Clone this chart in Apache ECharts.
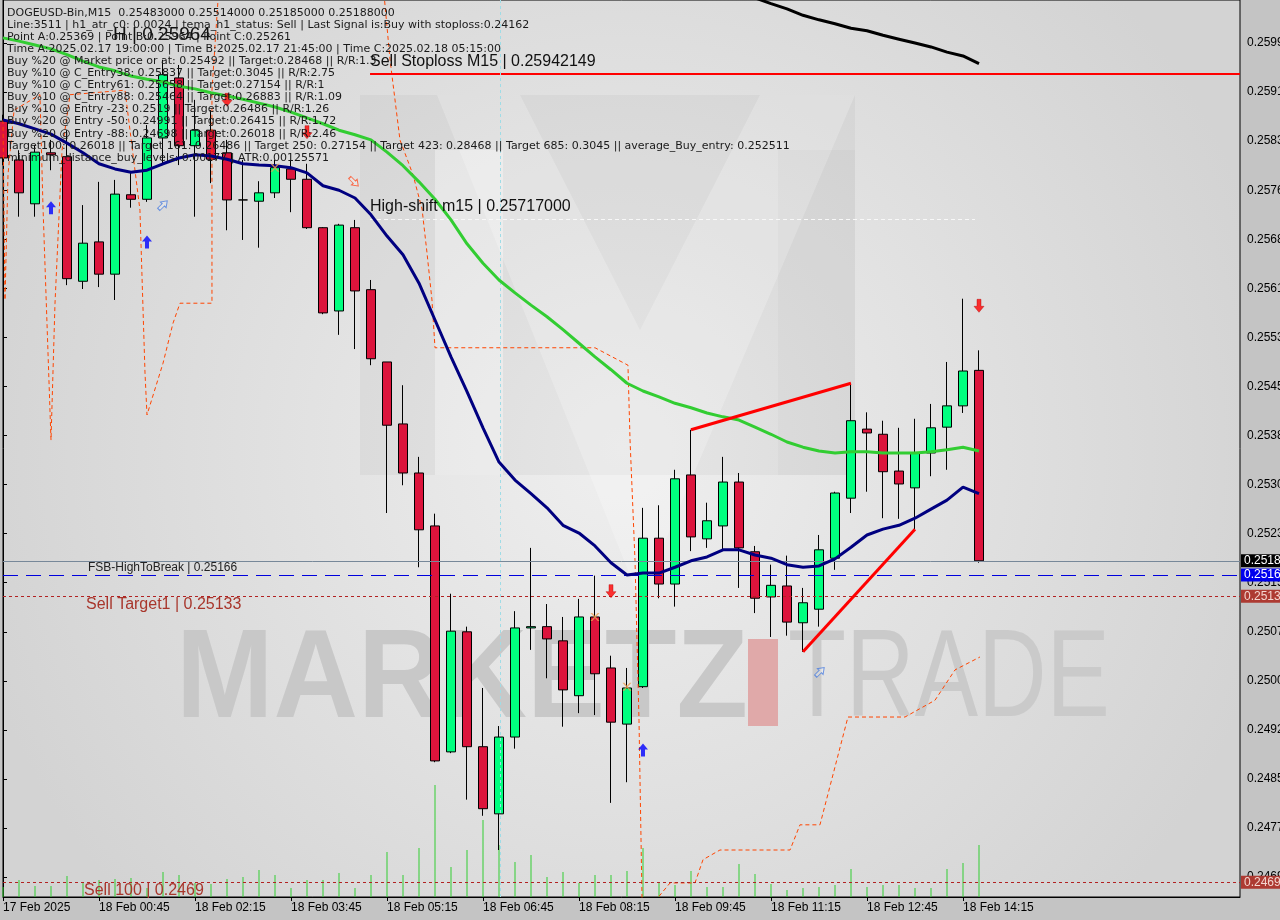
<!DOCTYPE html>
<html><head><meta charset="utf-8">
<script src="https://cdn.jsdelivr.net/npm/echarts@6/dist/echarts.min.js"></script>
<style>html,body{margin:0;padding:0;background:#c4c4c4}#c{width:1280px;height:920px}</style>
</head><body><div id="c"></div>
<script>
// ---------- DATA ----------
const candleOpen  = [0.25869,0.25809,0.25741,0.25820,0.25814,0.25621,0.25682,0.25632,0.25755,0.25748,0.25843,0.25936,0.25831,0.25855,0.25820,0.25747,0.25745,0.25758,0.25795,0.25779,0.25704,0.25575,0.25704,0.25608,0.25496,0.25400,0.25324,0.25242,0.24892,0.25078,0.24900,0.24796,0.24915,0.25084,0.25086,0.25064,0.24979,0.25101,0.25022,0.24935,0.24993,0.25223,0.25152,0.25321,0.25222,0.25242,0.25310,0.25202,0.25132,0.25149,0.25092,0.25113,0.25192,0.25285,0.25392,0.25384,0.25327,0.25301,0.25355,0.25395,0.25428,0.25483];
const candleHigh  = [0.25879,0.25824,0.25832,0.25840,0.25855,0.25739,0.25775,0.25778,0.25790,0.25863,0.25964,0.25956,0.25902,0.25886,0.25840,0.25809,0.25776,0.25809,0.25809,0.25803,0.25705,0.25710,0.25716,0.25623,0.25496,0.25460,0.25349,0.25261,0.25137,0.25086,0.24991,0.24932,0.25110,0.25208,0.25121,0.25101,0.25129,0.25165,0.25041,0.25022,0.25270,0.25274,0.25329,0.25391,0.25278,0.25349,0.25324,0.25211,0.25182,0.25196,0.25146,0.25228,0.25295,0.25463,0.25418,0.25405,0.25394,0.25408,0.25431,0.25496,0.25594,0.25514];
const candleLow   = [0.25801,0.25721,0.25721,0.25793,0.25615,0.25609,0.25612,0.25592,0.25735,0.25744,0.25801,0.25801,0.25721,0.25773,0.25700,0.25685,0.25673,0.25750,0.25728,0.25702,0.25570,0.25538,0.25516,0.25491,0.25262,0.25305,0.25178,0.24876,0.24890,0.24818,0.24793,0.24740,0.24897,0.25050,0.25006,0.24931,0.24952,0.24949,0.24813,0.24845,0.24991,0.25130,0.25117,0.25203,0.25208,0.25205,0.25146,0.25107,0.25070,0.25072,0.25047,0.25086,0.25174,0.25262,0.25295,0.25254,0.25253,0.25237,0.25319,0.25329,0.25417,0.25185];
const candleClose = [0.25812,0.25758,0.25821,0.25817,0.25625,0.25680,0.25632,0.25756,0.25748,0.25843,0.25941,0.25831,0.25855,0.25810,0.25747,0.25747,0.25758,0.25797,0.25779,0.25704,0.25572,0.25708,0.25606,0.25501,0.25398,0.25324,0.25236,0.24878,0.25079,0.24900,0.24804,0.24915,0.25084,0.25086,0.25067,0.24988,0.25101,0.25013,0.24938,0.24991,0.25223,0.25152,0.25315,0.25225,0.25250,0.25310,0.25208,0.25130,0.25150,0.25093,0.25123,0.25205,0.25293,0.25405,0.25386,0.25326,0.25307,0.25355,0.25394,0.25428,0.25482,0.25188];
const tickVolume  = [200,340,220,220,420,300,340,360,380,180,500,440,280,260,360,400,540,440,180,340,340,480,180,440,900,440,980,2240,600,940,1540,1040,700,840,400,500,280,440,440,520,980,280,240,520,200,200,660,460,260,140,180,200,240,560,200,240,240,180,180,560,680,1040];
const maNavy  = [0.25871,0.25865,0.25857,0.25849,0.25835,0.25820,0.25803,0.25795,0.25790,0.25793,0.25803,0.25812,0.25817,0.25815,0.25810,0.25803,0.25801,0.25800,0.25797,0.25789,0.25769,0.25762,0.25750,0.25724,0.25691,0.25662,0.25618,0.25561,0.25504,0.25450,0.25394,0.25341,0.25313,0.25292,0.25270,0.25243,0.25231,0.25211,0.25185,0.25166,0.25169,0.25169,0.25178,0.25188,0.25194,0.25205,0.25205,0.25197,0.25192,0.25182,0.25178,0.25180,0.25191,0.25209,0.25228,0.25237,0.25243,0.25254,0.25268,0.25282,0.25302,0.25292];
const maGreen = [0.25998,0.25993,0.25987,0.25981,0.25972,0.25962,0.25953,0.25947,0.25939,0.25934,0.25930,0.25923,0.25919,0.25913,0.25908,0.25903,0.25897,0.25891,0.25883,0.25874,0.25865,0.25855,0.25848,0.25840,0.25821,0.25800,0.25775,0.25748,0.25716,0.25679,0.25649,0.25623,0.25603,0.25584,0.25566,0.25546,0.25525,0.25504,0.25484,0.25463,0.25451,0.25442,0.25432,0.25425,0.25417,0.25411,0.25406,0.25395,0.25384,0.25372,0.25364,0.25358,0.25355,0.25357,0.25357,0.25355,0.25355,0.25355,0.25357,0.25360,0.25364,0.25358];
const maBlackStart = 46;
const maBlack = [0.26066,0.26060,0.26051,0.26043,0.26033,0.26026,0.26020,0.26013,0.26009,0.26002,0.25996,0.25990,0.25984,0.25976,0.25970,0.25958];
const stopX = [0,0.125,0.3125,0.69,2.31,2.5,3.0,3.25,3.69,4.19,7.625,8.56,8.875,9.0,10.0,10.625,11.06,13.06,13.06,13.44,13.7,23.56,24.19,24.81,25.625,26.19,26.5,26.81,27.0,37.0,39.06,39.19,39.5,39.75,39.94,40.56,41.69,43.25,43.75,44.81,49.19,49.81,51.06,52.81,56.375,58.25,59.5,61.06];
const stopP = [0.25871,0.25592,0.25786,0.25886,0.25910,0.25736,0.25375,0.25587,0.25824,0.25910,0.25917,0.25731,0.25479,0.25414,0.25494,0.25556,0.25587,0.25587,0.25917,0.26057,0.26134,0.26134,0.25964,0.25840,0.25786,0.25733,0.25665,0.25592,0.25518,0.25518,0.25491,0.25375,0.25189,0.24941,0.24663,0.24655,0.24689,0.24689,0.24725,0.24740,0.24740,0.24779,0.24779,0.24946,0.24946,0.24972,0.25019,0.25039];
const trendUpper = [[43,0.25391],[53,0.25463]];
const trendLower = [[50,0.25047],[57,0.25237]];
const arrowUpBlue = [[3,0.25735],[9,0.25682],[40,0.24895]];
const arrowDownRed = [[14,0.25902],[19,0.25852],[38,0.25141],[61,0.25583]];
const hollowBlue = [[10,0.25739],[51.06,0.25016]];
const hollowRed = [[21.94,0.25775]];
const crossMarks = [[17,0.25797],[37,0.25101],[39,0.24993]];
const waveLabels = [[4.06,0.25542,'I','#000'],[53.06,0.25485,'I','#0000ff'],[60,0.25643,'I V','#000'],[30,0.24700,'I I I','#000']];
const priceBid = 0.25188, priceFSB = 0.25166, priceSellT1 = 0.25133, priceSell100 = 0.2469;
const priceStoploss = 0.25942, priceHighShift = 0.25717, levelStartX = 22.94, highShiftEndX = 60.75;
const yTickValues = [0.24698,0.24774,0.24850,0.24926,0.25002,0.25078,0.25154,0.25230,0.25306,0.25382,0.25458,0.25534,0.25610,0.25686,0.25762,0.25838,0.25914,0.25990];
const xTickIndex = [0,6,12,18,24,30,36,42,48,54,60];
const xTickLabels = ['17 Feb 2025','18 Feb 00:45','18 Feb 02:15','18 Feb 03:45','18 Feb 05:15','18 Feb 06:45','18 Feb 08:15','18 Feb 09:45','18 Feb 11:15','18 Feb 12:45','18 Feb 14:15'];
const headerLines = [
 'DOGEUSD-Bin,M15  0.25483000 0.25514000 0.25185000 0.25188000',
 'Line:3511 | h1_atr_c0: 0.0024 | tema_h1_status: Sell | Last Signal is:Buy with stoploss:0.24162',
 'Point A:0.25369 | Point B:0.25964 | Point C:0.25261',
 'Time A:2025.02.17 19:00:00 | Time B:2025.02.17 21:45:00 | Time C:2025.02.18 05:15:00',
 'Buy %20 @ Market price or at: 0.25492 || Target:0.28468 || R/R:1.3',
 'Buy %10 @ C_Entry38: 0.25837 || Target:0.3045 || R/R:2.75',
 'Buy %10 @ C_Entry61: 0.25658 || Target:0.27154 || R/R:1',
 'Buy %10 @ C_Entry88: 0.25464 || Target:0.26883 || R/R:1.09',
 'Buy %10 @ Entry -23: 0.2519 || Target:0.26486 || R/R:1.26',
 'Buy %20 @ Entry -50: 0.24991 || Target:0.26415 || R/R:1.72',
 'Buy %20 @ Entry -88: 0.24698 || Target:0.26018 || R/R:2.46',
 'Target100: 0.26018 || Target 161: 0.26486 || Target 250: 0.27154 || Target 423: 0.28468 || Target 685: 0.3045 || average_Buy_entry: 0.252511',
 'minimum_distance_buy_levels: 0.00177 | ATR:0.00125571'
];

// ---------- CHART ----------
const chart = echarts.init(document.getElementById('c'), null, {renderer:'canvas'});
const F = 'Liberation Sans';
const FH = 'DejaVu Sans';
const arrowPath = 'path://M5 0 L10 6 L7 6 L7 13 L3 13 L3 6 L0 6 Z';
const crossPath = 'path://M0 0 L2 0 L5 3 L8 0 L10 0 L6 4 L10 8 L8 8 L5 5 L2 8 L0 8 L4 4 Z';

const graphics = [
  {type:'rect', z:-10, silent:true, shape:{x:3,y:0,width:1237,height:897},
   style:{fill:new echarts.graphic.RadialGradient(0.5,0.5,0.75,[{offset:0,color:'#efefef'},{offset:1,color:'#d3d3d3'}])}},
  // M logo watermark
  {type:'rect', z:-9, silent:true, shape:{x:360,y:95,width:495,height:380}, style:{fill:'rgba(0,0,0,0.035)'}},
  {type:'rect', z:-9, silent:true, shape:{x:435,y:150,width:68,height:325}, style:{fill:'rgba(255,255,255,0.35)'}},
  {type:'polygon', z:-9, silent:true, shape:{points:[[437,95],[520,95],[640,330],[760,95],[855,95],[640,600]]}, style:{fill:'rgba(255,255,255,0.22)'}},
  {type:'rect', z:-9, silent:true, shape:{x:778,y:150,width:77,height:325}, style:{fill:'rgba(0,0,0,0.02)'}},
  // MARKETZ I TRADE watermark
  {type:'text', z:-8, silent:true, x:176, y:682, scaleY:1.08, style:{text:'MARKETZ', font:'bold 117px '+F, fill:'#c8c8c8', textVerticalAlign:'middle'}},
  {type:'rect', z:-8, silent:true, shape:{x:748,y:639,width:30,height:87}, style:{fill:'#e0a9a9'}},
  {type:'text', z:-8, silent:true, x:788, y:682, scaleX:0.76, scaleY:1.0, style:{text:'TRADE', font:'normal 125px '+F, fill:'#cacaca', textVerticalAlign:'middle'}},
  // level texts
  {type:'text', z:100, silent:true, x:113, y:35, style:{text:'H | 0.25964', font:'19px '+F, fill:'#111', textVerticalAlign:'middle'}},
  {type:'text', z:100, silent:true, x:370, y:62, style:{text:'Sell Stoploss M15 | 0.25942149', font:'16px '+F, fill:'#111', textVerticalAlign:'middle'}},
  {type:'text', z:100, silent:true, x:370, y:207, style:{text:'High-shift m15 | 0.25717000', font:'16px '+F, fill:'#111', textVerticalAlign:'middle'}},
  {type:'text', z:100, silent:true, x:88, y:568, style:{text:'FSB-HighToBreak | 0.25166', font:'12px '+F, fill:'#222', textVerticalAlign:'middle'}},
  {type:'text', z:100, silent:true, x:86, y:605, style:{text:'Sell Target1 | 0.25133', font:'16px '+F, fill:'#a8362c', textVerticalAlign:'middle'}},
  {type:'text', z:100, silent:true, x:84, y:891, style:{text:'Sell 100 | 0.2469', font:'16px '+F, fill:'#a8362c', textVerticalAlign:'middle'}}
];
headerLines.forEach((t,k)=>{
  graphics.push({type:'text', z:100, silent:true, x:7, y:12.7+12.1*k, style:{text:t, font:'11px '+FH, fill:'#1a1a1a', textVerticalAlign:'middle'}});
});

const boxLabel = (txt,bg,fg)=>({show:true, position:'end', distance:1, formatter:txt, backgroundColor:bg, color:fg,
  fontFamily:F, fontSize:12, padding:[1,3,0,3], lineHeight:12});

const option = {
  animation:false,
  backgroundColor:'#c4c4c4',
  grid:{left:3, right:40, top:0, bottom:23, show:true, borderColor:'#000', borderWidth:1, backgroundColor:'transparent',
        containLabel:false, outerBoundsMode:'none'},
  xAxis:{type:'value', min:0, max:77.3125, position:'bottom',
    axisLine:{show:true, lineStyle:{color:'#000'}}, splitLine:{show:false},
    axisTick:{show:true, customValues:xTickIndex, length:4, lineStyle:{color:'#000'}},
    axisLabel:{customValues:xTickIndex, formatter:(v)=>xTickLabels[xTickIndex.indexOf(Math.round(v))]||'', align:'left', margin:5,
      color:'#000', fontFamily:F, fontSize:12}},
  yAxis:[
    {type:'value', position:'right', min:0.246672, max:0.260567, scale:true,
     axisLine:{show:true, lineStyle:{color:'#000'}}, splitLine:{show:false},
     axisTick:{show:true, customValues:yTickValues, length:4, lineStyle:{color:'#000'}},
     axisLabel:{customValues:yTickValues, formatter:(v)=>v.toFixed(5), margin:7, color:'#000', fontFamily:F, fontSize:12}},
    {type:'value', min:0, max:17940, show:false}
  ],
  graphic:{elements:graphics},
  series:[
    {type:'bar', name:'volume', xAxisIndex:0, yAxisIndex:1, barWidth:1, z:1, silent:true,
     itemStyle:{color:'#32cd32'}, data:tickVolume.map((v,i)=>[i,v])},
    {type:'candlestick', name:'price', z:3, barWidth:10, silent:true,
     itemStyle:{color:'#00ff7f', color0:'#dc143c', borderColor:'#000', borderColor0:'#000', borderWidth:1},
     data:candleOpen.map((o,i)=>[i,o,candleClose[i],candleLow[i],candleHigh[i]])},
    {type:'line', name:'stop', z:4, symbol:'none', silent:true, lineStyle:{color:'#ff4500', width:1, type:[4,3]},
     data:stopX.map((x,i)=>[x,stopP[i]])},
    {type:'line', name:'maGreen', z:5, symbol:'none', silent:true, lineStyle:{color:'#32cd32', width:3},
     data:maGreen.map((v,i)=>[i,v])},
    {type:'line', name:'maBlack', z:5, symbol:'none', silent:true, lineStyle:{color:'#000', width:3},
     data:maBlack.map((v,i)=>[maBlackStart+i,v])},
    {type:'line', name:'maNavy', z:6, symbol:'none', silent:true, lineStyle:{color:'#000080', width:3},
     data:maNavy.map((v,i)=>[i,v]),
     markLine:{symbol:'none', silent:true, animation:false, precision:6, data:[
       {yAxis:priceBid, lineStyle:{color:'#778899', width:1, type:'solid'}, label:boxLabel('0.25188','#000','#fff')},
       {yAxis:priceFSB, lineStyle:{color:'#0000dd', width:1, type:[15,8]}, label:boxLabel('0.25166','#0000ee','#fff')},
       {yAxis:priceSellT1, lineStyle:{color:'#b22222', width:1, type:[3,3]}, label:boxLabel('0.25133','#ad3a32','#f4d6d0')},
       {yAxis:priceSell100, lineStyle:{color:'#b22222', width:1, type:[3,3]}, label:boxLabel('0.24690','#ad3a32','#f4d6d0')},
       [{coord:[levelStartX,priceStoploss], lineStyle:{color:'#ff0000', width:2, type:'solid'}, label:{show:false}},{coord:[77.3125,priceStoploss]}],
       [{coord:[levelStartX,priceHighShift], lineStyle:{color:'#f8f8f8', width:1, type:[4,3]}, label:{show:false}},{coord:[highShiftEndX,priceHighShift]}],
       {xAxis:31.06, lineStyle:{color:'#9fdce6', width:1, type:[3,3]}, label:{show:false}}
     ]}},
    {type:'line', name:'trendUpper', z:7, symbol:'none', silent:true, lineStyle:{color:'#ff0000', width:3}, data:trendUpper},
    {type:'line', name:'trendLower', z:7, symbol:'none', silent:true, lineStyle:{color:'#ff0000', width:3}, data:trendLower},
    {type:'scatter', z:8, silent:true, symbol:arrowPath, symbolSize:[10,13], itemStyle:{color:'#0000ff'}, data:arrowUpBlue},
    {type:'scatter', z:8, silent:true, symbol:arrowPath, symbolSize:[10,13], symbolRotate:180, itemStyle:{color:'#ff0000', borderColor:'#b00000', borderWidth:0.5}, data:arrowDownRed},
    {type:'scatter', z:8, silent:true, symbol:arrowPath, symbolSize:[8,12], symbolRotate:-45, itemStyle:{color:'rgba(255,255,255,0.3)', borderColor:'#4a7de0', borderWidth:1}, data:hollowBlue},
    {type:'scatter', z:8, silent:true, symbol:arrowPath, symbolSize:[8,12], symbolRotate:-135, itemStyle:{color:'rgba(255,255,255,0.3)', borderColor:'#ff4a20', borderWidth:1}, data:hollowRed},
    {type:'scatter', z:8, silent:true, symbol:crossPath, symbolSize:[9,8], itemStyle:{color:'#f0a050'}, data:crossMarks},
    {type:'scatter', z:9, silent:true, symbolSize:1, itemStyle:{opacity:0},
     data:waveLabels.map(w=>({value:[w[0],w[1]], label:{show:true, position:'inside', formatter:w[2], color:w[3], fontFamily:F, fontSize:19}}))}
  ]
};
chart.setOption(option);
</script>
</body></html>
